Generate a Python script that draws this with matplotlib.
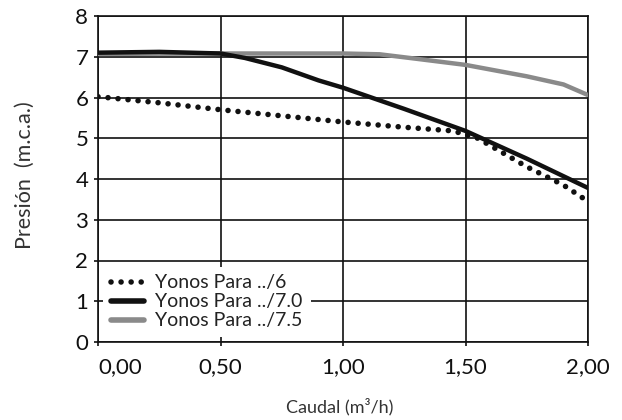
import matplotlib
matplotlib.use("Agg")
import matplotlib.pyplot as plt

plt.rcParams['font.family'] = ['Lato', 'DejaVu Sans']

# caudal (m3/h) vs presion (m.c.a.)
q6 = [0.0, 0.25, 0.5, 0.75, 1.0, 1.25, 1.45, 1.55, 1.65, 1.75, 1.9, 2.0]
p6 = [6.02, 5.87, 5.70, 5.55, 5.40, 5.27, 5.18, 5.0, 4.65, 4.3, 3.85, 3.45]

q70 = [0.0, 0.25, 0.5, 0.6, 0.75, 0.9, 1.0, 1.25, 1.5, 1.75, 2.0]
p70 = [7.10, 7.12, 7.08, 6.97, 6.74, 6.42, 6.24, 5.72, 5.18, 4.50, 3.78]

q75 = [0.0, 0.5, 1.0, 1.15, 1.3, 1.5, 1.75, 1.9, 2.0]
p75 = [7.07, 7.08, 7.08, 7.06, 6.95, 6.80, 6.52, 6.32, 6.06]

xticks = [0.0, 0.5, 1.0, 1.5, 2.0]
xlabels = ['0,00', '0,50', '1,00', '1,50', '2,00']
yticks = list(range(0, 9))

fig = plt.figure(figsize=(6.22, 4.2), dpi=100)
ax = fig.add_axes([98/622, 78/420, 490/622, 326/420])

ax.plot(q75, p75, color='#8a8a8a', lw=3.2, solid_capstyle='round', label='Yonos Para ../7.5', zorder=3)
ax.plot(q70, p70, color='#111111', lw=3.2, solid_capstyle='round', label='Yonos Para ../7.0', zorder=4)
ax.plot(q6, p6, color='#111111', lw=4.0, linestyle=(0, (0.01, 1.8)), dash_capstyle='round',
        label='Yonos Para ../6', zorder=5)

ax.set_xlim(0, 2.0)
ax.set_ylim(0, 8)
ax.set_xticks(xticks)
ax.set_xticklabels(xlabels)
ax.set_yticks(yticks)
ax.grid(True, color='#111111', lw=1.2, zorder=1)
ax.set_axisbelow(True)
for s in ax.spines.values():
    s.set_color('#111111')
    s.set_linewidth(1.2)
ax.tick_params(axis='both', labelsize=16, colors='#111111', length=3, width=1.2)
ax.tick_params(axis='x', pad=8)
ax.tick_params(axis='y', pad=4)
ax.get_xticklabels()[0].set_ha('left')

fig.text(25/622, 1 - 175/420, 'Presión  (m.c.a.)', rotation=90, fontsize=15.5,
         color='#333333', ha='center', va='center')
fig.text(340/622, 1 - 407/420, 'Caudal (m³/h)', fontsize=13,
         color='#333333', ha='center', va='center')

handles, labels = ax.get_legend_handles_labels()
order = [2, 1, 0]
leg = ax.legend([handles[i] for i in order], [labels[i] for i in order],
                loc='lower left', bbox_to_anchor=(0.0, 0.0), fontsize=14,
                frameon=True, fancybox=False, framealpha=1, edgecolor='white',
                handlelength=1.7, handletextpad=0.6, labelspacing=0.1,
                borderpad=0.4, borderaxespad=0.25)
leg.set_zorder(6)
leg.get_frame().set_linewidth(0)
for line in leg.get_lines():
    line.set_linewidth(4.0)
for t in leg.get_texts():
    t.set_color('#222222')

fig.savefig('out.png', dpi=100)
